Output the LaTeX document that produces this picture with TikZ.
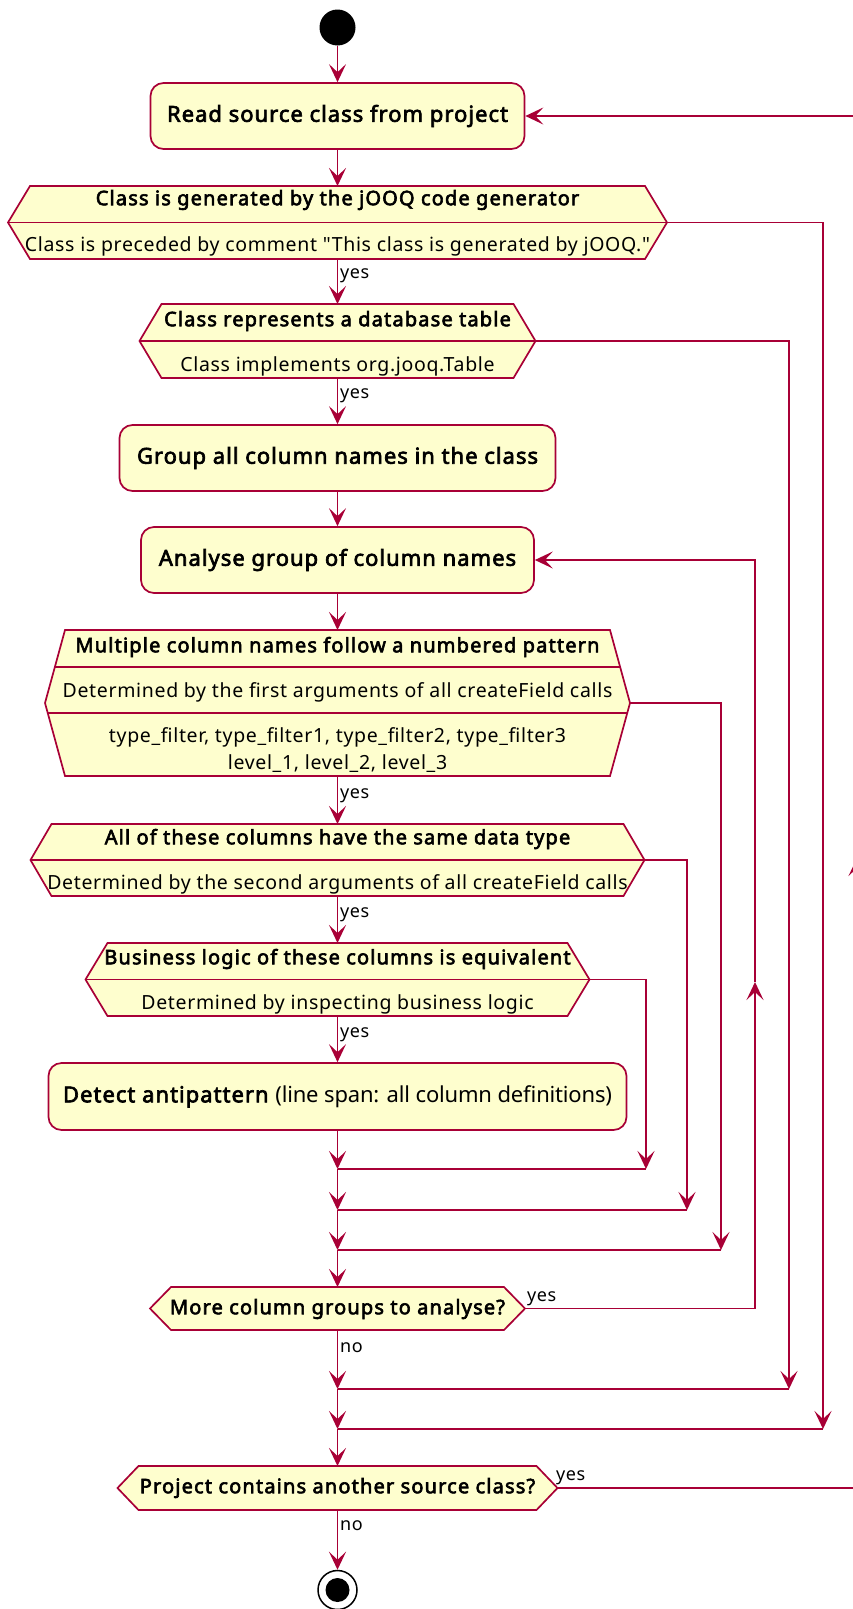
\documentclass[tikz,border=0pt]{standalone}
\usepackage{fontspec}
\setmainfont{Noto Sans}[Ligatures=TeXOff, BoldFont=*, BoldFeatures={FakeBold=3}]
\usetikzlibrary{arrows.meta,calc}

\definecolor{boxfill}{HTML}{FEFECE}
\definecolor{boxline}{HTML}{A80036}

\tikzset{
  actbox/.style={draw=boxline, fill=boxfill, line width=1.7pt, rounded corners=13pt,
    inner sep=0pt, font=\fontsize{22}{26}\selectfont\bfseries\addfontfeature{LetterSpace=4.6}},
  hexarea/.style={inner sep=0pt, outer sep=0pt},
  hexline/.style={draw=boxline, fill=boxfill, line width=1.7pt, line join=miter},
  divline/.style={draw=boxline, line width=1.7pt},
  condtext/.style={inner sep=0pt, font=\fontsize{20}{23}\selectfont\bfseries\addfontfeature{LetterSpace=5.8}},
  infotext/.style={inner sep=0pt, font=\fontsize{19.5}{23}\selectfont\addfontfeature{LetterSpace=3.4}},
  edgelabel/.style={inner sep=0pt, anchor=west, font=\fontsize{18}{21}\selectfont\addfontfeature{LetterSpace=3}},
  link/.style={draw=boxline, line width=1.7pt},
  flow/.style={link, -{Stealth[length=18pt, width=17pt, inset=8pt]}},
}

% hexagon outline drawn around an invisible area node
\newcommand{\hexoutline}[2]{%
  \path[hexline] (#1.west) -- ([xshift=#2]#1.north west) -- ([xshift=-#2]#1.north east)
    -- (#1.east) -- ([xshift=-#2]#1.south east) -- ([xshift=#2]#1.south west) -- cycle;}

\begin{document}
\begin{tikzpicture}[x=1pt, y=-1pt]
\useasboundingbox (0,0) rectangle (853,1609);
\clip (0,0) rectangle (853,1609);

% start and end
\node[circle, fill=black, minimum size=36pt, inner sep=0pt] (start) at (337.5,27.5) {};

% activities
\node[actbox, minimum width=374pt, minimum height=66pt] (read) at (337.5,116) {Read source class from project};
\node[actbox, minimum width=436pt, minimum height=66pt] (group) at (337.5,458) {Group all column names in the class};
\node[actbox, minimum width=393pt, minimum height=66pt] (analyse) at (337.5,560) {Analyse group of column names};
\node[actbox, minimum width=578pt, minimum height=67pt] (detect) at (337.5,1096.5)
  {Detect antipattern \mdseries\addfontfeature{LetterSpace=-0.8}(line span: all column definitions)};

% decision areas and their outlines
\node[hexarea, minimum width=659pt, minimum height=73pt] (d1) at (337.5,222.5) {};
\node[hexarea, minimum width=396pt, minimum height=74pt] (d2) at (337.5,341) {};
\node[hexarea, minimum width=585pt, minimum height=146pt] (d3) at (337.5,703) {};
\node[hexarea, minimum width=614pt, minimum height=72pt] (d4) at (337.5,860) {};
\node[hexarea, minimum width=504pt, minimum height=73pt] (d5) at (337.5,979.5) {};
\node[hexarea, minimum width=375pt, minimum height=43pt] (d6) at (337.5,1308.5) {};
\node[hexarea, minimum width=440pt, minimum height=44pt] (d7) at (337.5,1488) {};

\hexoutline{d1}{22pt}
\hexoutline{d2}{22pt}
\hexoutline{d3}{20pt}
\hexoutline{d4}{21pt}
\hexoutline{d5}{22pt}
\hexoutline{d6}{21pt}
\hexoutline{d7}{21pt}
\draw[divline] (d1.west) -- (d1.east);
\draw[divline] (d2.west) -- (d2.east);
\draw[divline] (54.9,667) -- (620.1,667);
\draw[divline] (47.7,713) -- (627.3,713);
\draw[divline] (d4.west) -- (d4.east);
\draw[divline] (d5.west) -- (d5.east);

% decision texts
\node[condtext] (d1a) at (337.5,200) {Class is generated by the jOOQ code generator};
\node[infotext] (d1b) at (337.5,246) {Class is preceded by comment "This class is generated by jOOQ."};
\node[condtext] (d2a) at (337.5,321) {Class represents a database table};
\node[infotext] (d2b) at (337.5,366) {Class implements org.jooq.Table};
\node[condtext] (d3a) at (337.5,647) {Multiple column names follow a numbered pattern};
\node[infotext] (d3b) at (337.5,692) {Determined by the first arguments of all createField calls};
\node[infotext] (d3c) at (337.5,737) {type\_filter, type\_filter1, type\_filter2, type\_filter3};
\node[infotext] (d3d) at (337.5,764) {level\_1, level\_2, level\_3};
\node[condtext] (d4a) at (337.5,839) {All of these columns have the same data type};
\node[infotext] (d4b) at (337.5,884) {Determined by the second arguments of all createField calls};
\node[condtext] (d5a) at (337.5,959) {Business logic of these columns is equivalent};
\node[infotext] (d5b) at (337.5,1004) {Determined by inspecting business logic};
\node[condtext] (d6a) at (337.5,1309) {More column groups to analyse?};
\node[condtext] (d7a) at (337.5,1488) {Project contains another source class?};

% end
\node[circle, draw=black, line width=1.5pt, fill=white, minimum size=39pt, inner sep=0pt] (stop) at (337.5,1590) {};
\node[circle, fill=black, minimum size=24pt, inner sep=0pt] (stopdot) at (stop.center) {};

% join points
\coordinate (j1) at (337.5,1169);
\coordinate (j1r) at (646,1169);
\coordinate (j2) at (337.5,1210);
\coordinate (j2r) at (687,1210);
\coordinate (j3) at (337.5,1250);
\coordinate (j3r) at (721,1250);
\coordinate (j4) at (337.5,1389);
\coordinate (j4r) at (789,1389);
\coordinate (j5) at (337.5,1429);
\coordinate (j5r) at (823,1429);
\coordinate (loopmid) at (755,982);
\coordinate (backmid) at (857,858);

% main flow
\draw[flow] (start) -- (read);
\draw[flow] (read) -- (d1.north);
\draw[flow] (d1.south) -- (d2.north);
\draw[flow] (d2.south) -- (group);
\draw[flow] (group) -- (analyse);
\draw[flow] (analyse) -- (d3.north);
\draw[flow] (d3.south) -- (d4.north);
\draw[flow] (d4.south) -- (d5.north);
\draw[flow] (d5.south) -- (detect);
\draw[flow] (detect) -- (j1);
\draw[flow] (j1) -- (j2);
\draw[flow] (j2) -- (j3);
\draw[flow] (j3) -- (d6.north);
\draw[flow] (d6.south) -- (j4);
\draw[flow] (j4) -- (j5);
\draw[flow] (j5) -- (d7.north);
\draw[flow] (d7.south) -- (stop);

% branches that skip ahead
\draw[flow] (d5.east) -| (j1r);
\draw[link] (j1) -- (j1r);
\draw[flow] (d4.east) -| (j2r);
\draw[link] (j2) -- (j2r);
\draw[flow] (d3.east) -| (j3r);
\draw[link] (j3) -- (j3r);
\draw[flow] (d2.east) -| (j4r);
\draw[link] (j4) -- (j4r);
\draw[flow] (d1.east) -| (j5r);
\draw[link] (j5) -- (j5r);

% loops back
\draw[flow] (d6.east) -| (loopmid);
\draw[flow] (loopmid) |- (analyse.east);
\draw[flow] (d7.east) -| (backmid);
\draw[flow] (backmid) |- (read.east);

% edge labels
\node[edgelabel] (l1) at (340,276) {yes};
\node[edgelabel] (l2) at (340,396) {yes};
\node[edgelabel] (l3) at (340,796) {yes};
\node[edgelabel] (l4) at (340,915) {yes};
\node[edgelabel] (l5) at (340,1035) {yes};
\node[edgelabel] (l6) at (527,1299) {yes};
\node[edgelabel] (l7) at (340,1348) {no};
\node[edgelabel] (l8) at (556,1478) {yes};
\node[edgelabel] (l9) at (340,1526) {no};
\end{tikzpicture}
\end{document}
